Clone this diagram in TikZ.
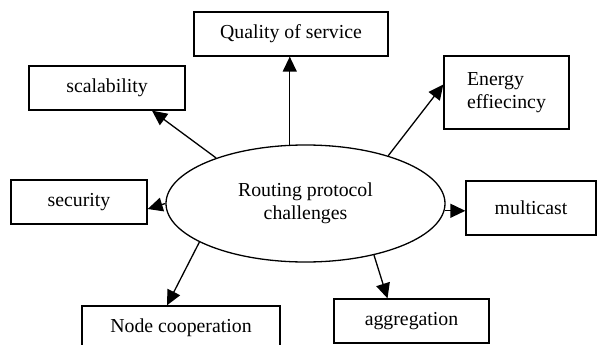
\documentclass[tikz,border=0pt]{standalone}
\usepackage{fontspec}
\setmainfont{Liberation Serif}
\usetikzlibrary{arrows.meta, shapes.geometric}

\begin{document}
\begin{tikzpicture}[
  x=1pt, y=-1pt,
  font=\fontsize{19.8}{23}\selectfont,
  box/.style    ={draw, line width=1.3pt, inner sep=0pt, align=center},
  hubstyle/.style={ellipse, draw, line width=1.3pt, inner sep=0pt, align=center,
                  minimum width=279pt, minimum height=117pt},
  flow/.style   ={-{Triangle[length=15pt, width=14pt]}, line width=1.3pt},
]
\useasboundingbox (0,0) rectangle (597,345);
\clip (0,0) rectangle (597,345);

% ----- Centre -----
\node[hubstyle] (hub) at (305.5,203.5) {Routing protocol\\challenges};

% ----- Challenge boxes -----
\node[box, minimum width=194pt, minimum height=44pt] (qos)  at (291,34)    {Quality of service};
\node[box, minimum width=156pt, minimum height=44pt] (scal) at (107,88)    {scalability};
\node[box, minimum width=125pt, minimum height=73pt, align=left] (energy) at (506.5,92.5)
  {Energy\\effiecincy};
\node[box, minimum width=136pt, minimum height=44pt] (sec)  at (79,202)    {security};
\node[box, minimum width=130pt, minimum height=54pt] (mcast) at (531,208)  {multicast};
\node[box, minimum width=198pt, minimum height=44pt] (coop) at (181,328)   {Node cooperation};
\node[box, minimum width=155pt, minimum height=44pt] (agg)  at (411.5,321) {aggregation};

% ----- Arrows out of the centre -----
\draw[flow] (hub.105) -- (hub.105 |- qos.south);
\draw[flow] (hub.153) -- ([xshift=45pt]scal.south);
\draw[flow] (hub.30)  -- ([yshift=8pt]energy.west);
\draw[flow] (hub.west) -- ([yshift=-7pt]sec.east);
\draw[flow] (hub.-3)  -- (hub.-3 -| mcast.west);
\draw[flow] (hub.200) -- ([xshift=-14pt]coop.north);
\draw[flow] (hub.-37) -- ([xshift=-24pt]agg.north);

\end{tikzpicture}
\end{document}
